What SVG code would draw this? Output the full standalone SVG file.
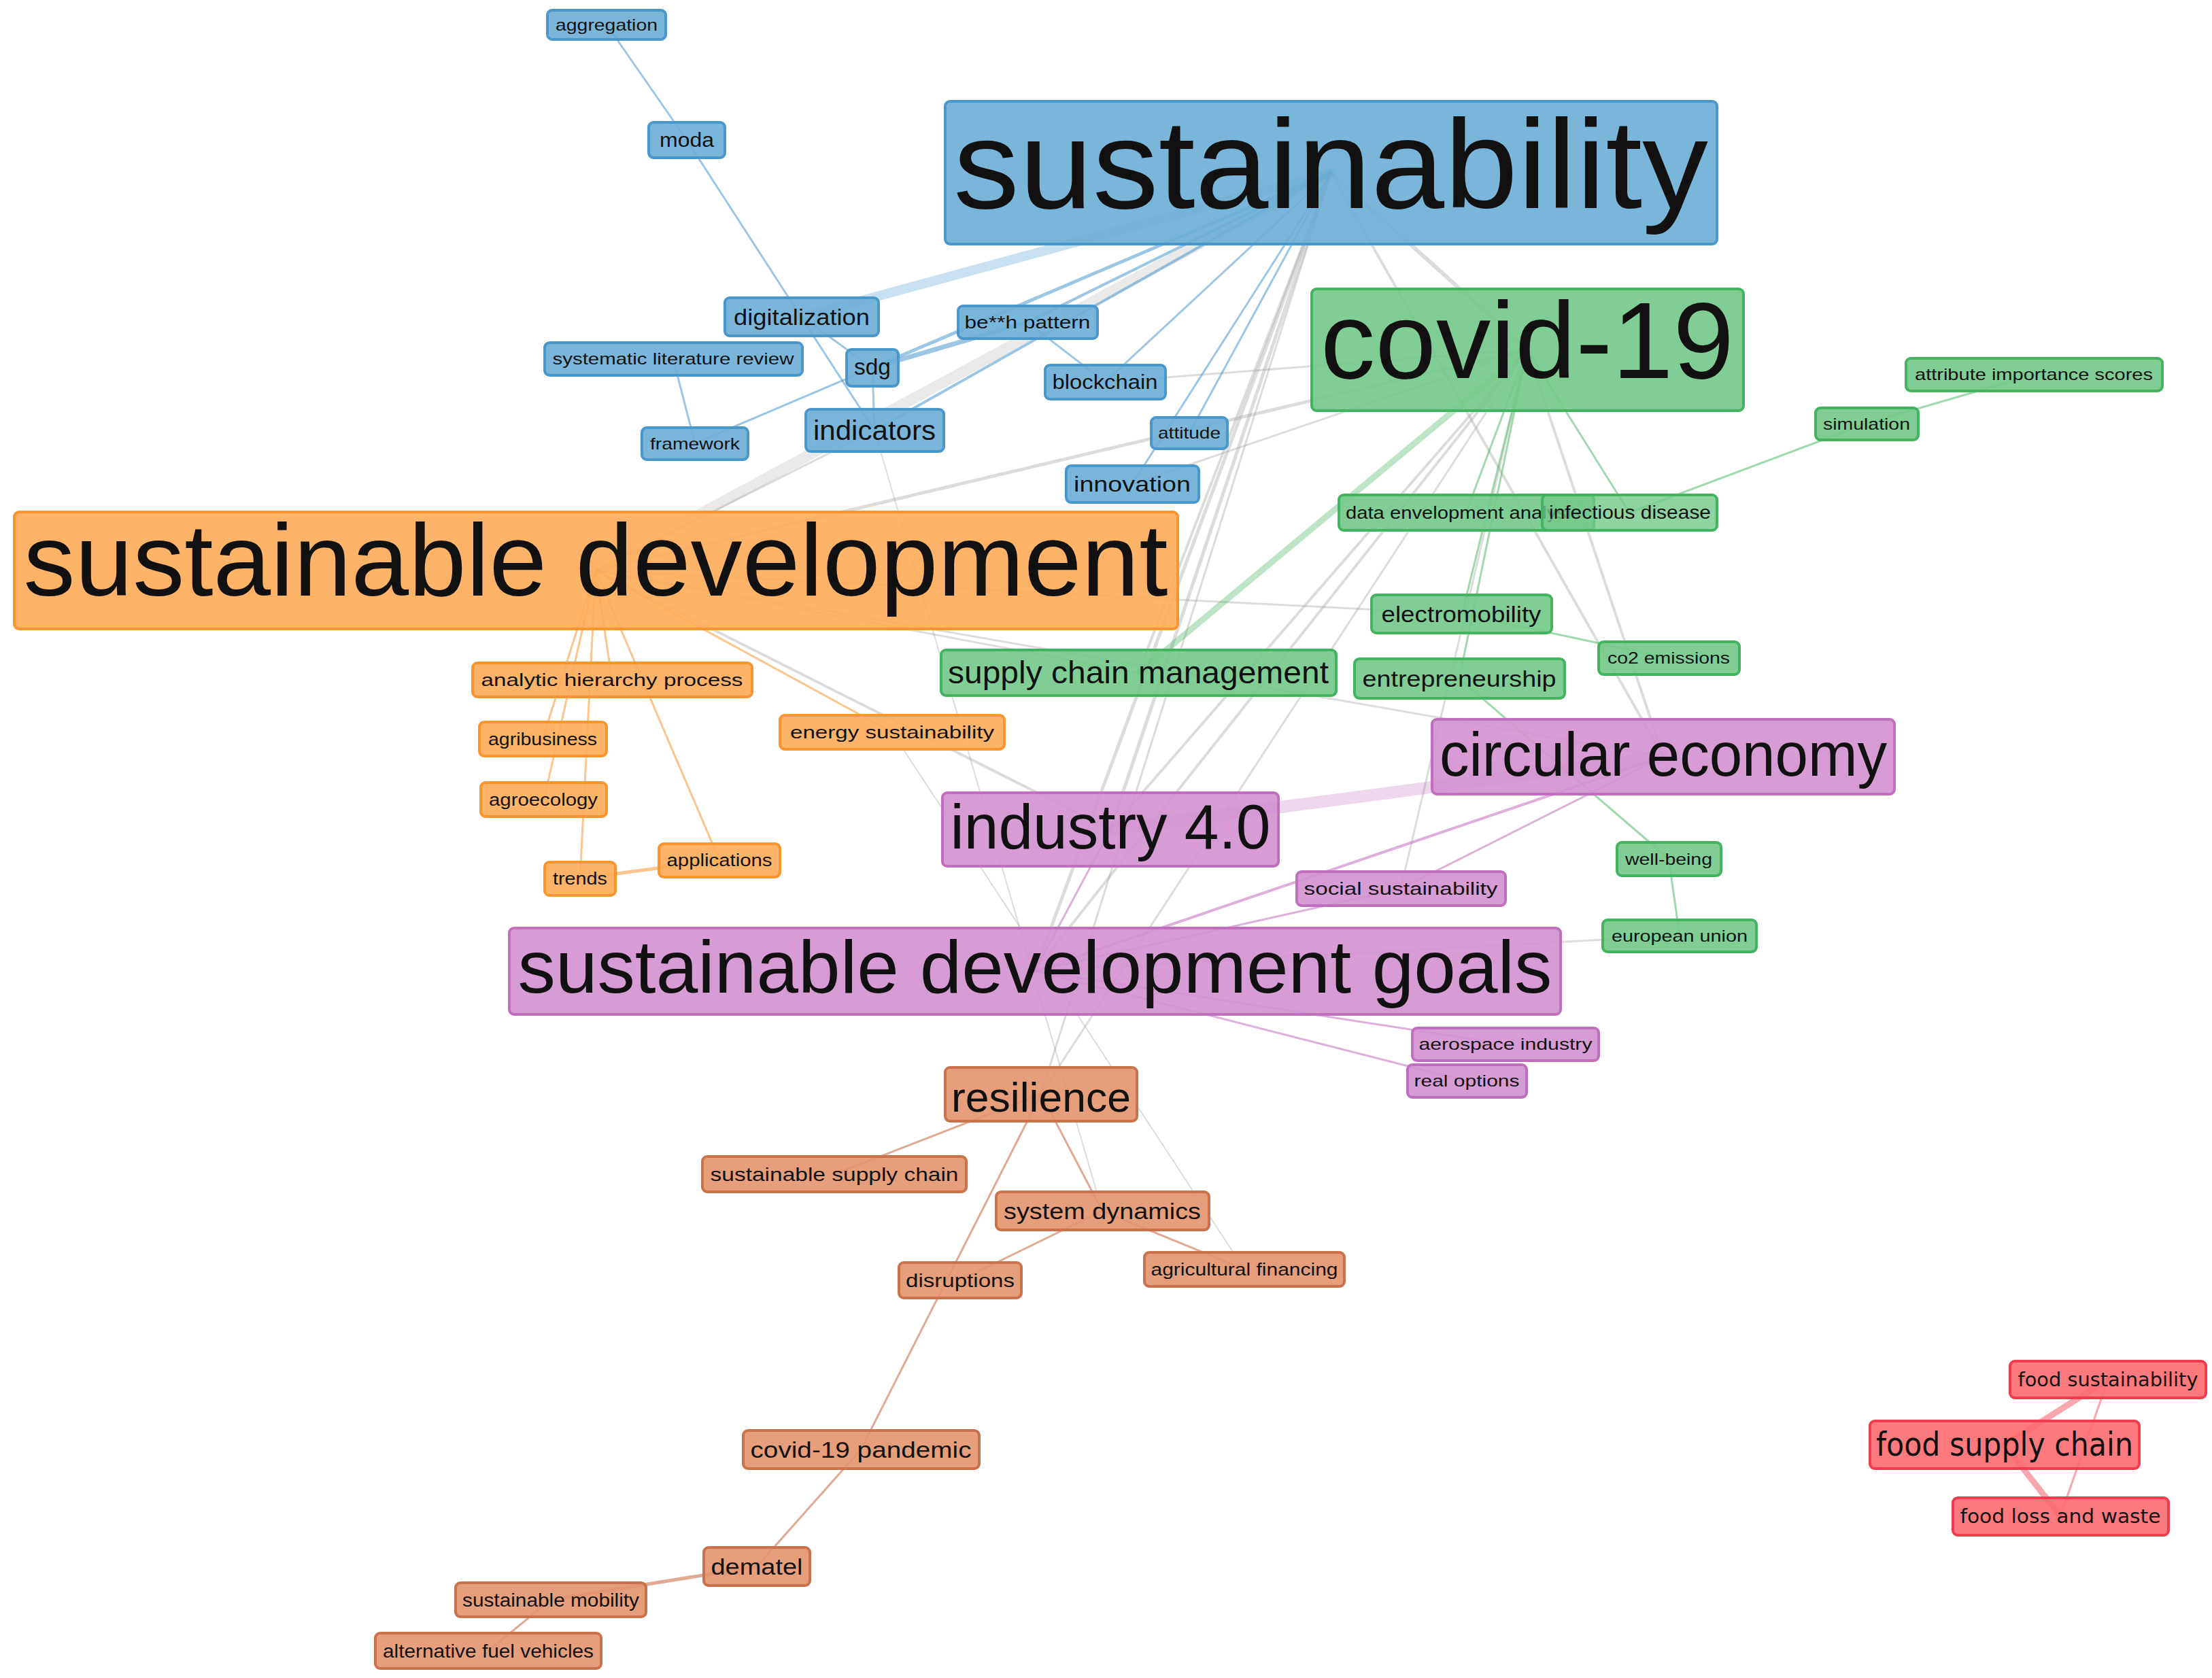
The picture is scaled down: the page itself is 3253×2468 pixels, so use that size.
<svg xmlns="http://www.w3.org/2000/svg" width="3253" height="2468" viewBox="0 0 3253 2468">
<style>
text{font-family:"Liberation Sans",Arial,sans-serif;fill:#111;text-anchor:middle}
rect{stroke-width:4;rx:7;ry:7;fill-opacity:0.9}
.b rect{fill:#6baed6;stroke:#4a97cc}
.g rect{fill:#72c98a;stroke:#42b35e}
.o rect{fill:#fdab58;stroke:#f8952f}
.p rect{fill:#d391cf;stroke:#c06fbe}
.r rect{fill:#e3946d;stroke:#c9724c}
.f rect{fill:#fc6a70;stroke:#f03c4c}
.f text{font-family:"DejaVu Sans",Verdana,sans-serif}
line{stroke-linecap:round;fill:none}
.eb{stroke:#4a97cc;stroke-opacity:.55;stroke-width:3}
.eg{stroke:#9a9a9a;stroke-opacity:.35;stroke-width:3}
.eG{stroke:#42b35e;stroke-opacity:.5;stroke-width:3}
.eo{stroke:#f8952f;stroke-opacity:.55;stroke-width:3}
.ep{stroke:#c06fbe;stroke-opacity:.55;stroke-width:3}
.er{stroke:#c9724c;stroke-opacity:.6;stroke-width:3}
.ef{stroke:#f03c4c;stroke-opacity:.45;stroke-width:3}
</style>
<rect x="0" y="0" width="3253" height="2468" style="fill:#fff;stroke:none;fill-opacity:1"/>
<g id="connectors">
<!-- gray inter-cluster -->
<line class="eg" x1="1957" y1="254" x2="876" y2="839" style="stroke-width:16;stroke-opacity:.22"/>
<line class="eg" x1="1957" y1="254" x2="2246" y2="514" style="stroke-width:6"/>
<line class="eg" x1="1957" y1="254" x2="1522" y2="1428" style="stroke-width:5"/>
<line class="eg" x1="1957" y1="254" x2="1633" y2="1220" style="stroke-width:5"/>
<line class="eg" x1="1957" y1="254" x2="1674" y2="990" style="stroke-width:4"/>
<line class="eg" x1="1957" y1="254" x2="2446" y2="1113" style="stroke-width:4"/>
<line class="eg" x1="1957" y1="254" x2="1531" y2="1609" style="stroke-width:3"/>
<line class="eg" x1="2246" y1="514" x2="876" y2="839" style="stroke-width:5"/>
<line class="eg" x1="2246" y1="514" x2="1522" y2="1428" style="stroke-width:4"/>
<line class="eg" x1="2246" y1="514" x2="1633" y2="1220" style="stroke-width:4"/>
<line class="eg" x1="2246" y1="514" x2="1531" y2="1609"/>
<line class="eg" x1="2246" y1="514" x2="2446" y2="1113" style="stroke-width:4"/>
<line class="eg" x1="2246" y1="514" x2="1625" y2="562"/>
<line class="eg" x1="2246" y1="514" x2="1665" y2="712"/>
<line class="eg" x1="2246" y1="514" x2="2060" y2="1307"/>
<line class="eg" x1="876" y1="839" x2="1633" y2="1220" style="stroke-width:4"/>
<line class="eg" x1="876" y1="839" x2="1674" y2="990"/>
<line class="eg" x1="876" y1="839" x2="2150" y2="903"/>
<line class="eg" x1="876" y1="839" x2="2446" y2="1113"/>
<line class="eg" x1="876" y1="839" x2="1286" y2="633"/>
<line class="eg" x1="1522" y1="1428" x2="2470" y2="1376"/>
<line class="eg" x1="1312" y1="1077" x2="1830" y2="1867" style="stroke-width:2"/>
<line class="eg" x1="1286" y1="633" x2="1621" y2="1781" style="stroke-width:2"/>
<!-- blue -->
<line class="eb" x1="1957" y1="254" x2="1179" y2="466" style="stroke-width:14;stroke-opacity:.3"/>
<line class="eb" x1="1957" y1="254" x2="1283" y2="541" style="stroke-width:5"/>
<line class="eb" x1="1957" y1="254" x2="1511" y2="474" style="stroke-width:4"/>
<line class="eb" x1="1957" y1="254" x2="1286" y2="633" style="stroke-width:4"/>
<line class="eb" x1="1957" y1="254" x2="1625" y2="562"/>
<line class="eb" x1="1957" y1="254" x2="1749" y2="637"/>
<line class="eb" x1="1957" y1="254" x2="1665" y2="712"/>
<line class="eb" x1="892" y1="36" x2="1010" y2="206"/>
<line class="eb" x1="1010" y1="206" x2="1286" y2="633"/>
<line class="eb" x1="1179" y1="466" x2="1283" y2="541"/>
<line class="eb" x1="990" y1="528" x2="1022" y2="652"/>
<line class="eb" x1="1022" y1="652" x2="1283" y2="541"/>
<line class="eb" x1="1283" y1="541" x2="1511" y2="474" style="stroke-width:7"/>
<line class="eb" x1="1283" y1="541" x2="1286" y2="633"/>
<line class="eb" x1="1511" y1="474" x2="1625" y2="562"/>
<!-- green -->
<line class="eG" x1="2246" y1="514" x2="1674" y2="990" style="stroke-width:9;stroke-opacity:.35"/>
<line class="eG" x1="2246" y1="514" x2="2156" y2="754"/>
<line class="eG" x1="2246" y1="514" x2="2396" y2="754"/>
<line class="eG" x1="2246" y1="514" x2="2150" y2="903"/>
<line class="eG" x1="2246" y1="514" x2="2146" y2="998"/>
<line class="eG" x1="2396" y1="754" x2="2745" y2="623"/>
<line class="eG" x1="2745" y1="623" x2="2991" y2="551"/>
<line class="eG" x1="2150" y1="903" x2="2454" y2="968"/>
<line class="eG" x1="2146" y1="998" x2="2454" y2="1263"/>
<line class="eG" x1="2454" y1="1263" x2="2470" y2="1376"/>
<!-- orange -->
<line class="eo" x1="876" y1="839" x2="900" y2="1000"/>
<line class="eo" x1="876" y1="839" x2="798" y2="1087"/>
<line class="eo" x1="876" y1="839" x2="800" y2="1176"/>
<line class="eo" x1="876" y1="839" x2="853" y2="1292"/>
<line class="eo" x1="876" y1="839" x2="1058" y2="1265"/>
<line class="eo" x1="876" y1="839" x2="1312" y2="1077"/>
<line class="eo" x1="853" y1="1292" x2="1058" y2="1265" style="stroke-width:5"/>
<!-- purple -->
<line class="ep" x1="1633" y1="1220" x2="2446" y2="1113" style="stroke-width:18;stroke-opacity:.28"/>
<line class="ep" x1="2446" y1="1113" x2="1522" y2="1428" style="stroke-width:4"/>
<line class="ep" x1="2446" y1="1113" x2="2060" y2="1307"/>
<line class="ep" x1="2060" y1="1307" x2="1522" y2="1428"/>
<line class="ep" x1="1522" y1="1428" x2="2214" y2="1536"/>
<line class="ep" x1="1522" y1="1428" x2="2157" y2="1590"/>
<line class="ep" x1="1633" y1="1220" x2="1522" y2="1428"/>
<!-- brown -->
<line class="er" x1="1531" y1="1609" x2="1227" y2="1727"/>
<line class="er" x1="1531" y1="1609" x2="1621" y2="1781"/>
<line class="er" x1="1531" y1="1609" x2="1266" y2="2132"/>
<line class="er" x1="1621" y1="1781" x2="1412" y2="1883"/>
<line class="er" x1="1621" y1="1781" x2="1830" y2="1867"/>
<line class="er" x1="1266" y1="2132" x2="1113" y2="2304"/>
<line class="er" x1="1113" y1="2304" x2="810" y2="2353" style="stroke-width:5"/>
<line class="er" x1="810" y1="2353" x2="718" y2="2428"/>
<!-- red -->
<line class="ef" x1="2948" y1="2125" x2="3100" y2="2029" style="stroke-width:9"/>
<line class="ef" x1="2948" y1="2125" x2="3030" y2="2230" style="stroke-width:9"/>
<line class="ef" x1="3100" y1="2029" x2="3030" y2="2230"/>
</g>
<!-- blue cluster -->
<g id="n-sustainability" class="b"><rect x="1390" y="149" width="1135" height="210"/><text x="1957" y="306" font-size="185" textLength="1110" lengthAdjust="spacingAndGlyphs">sustainability</text></g>
<g id="n-aggregation" class="b"><rect x="805" y="15" width="174" height="43"/><text x="892" y="45" font-size="24" textLength="150" lengthAdjust="spacingAndGlyphs">aggregation</text></g>
<g id="n-moda" class="b"><rect x="954" y="180" width="112" height="52"/><text x="1010" y="216" font-size="30" textLength="80" lengthAdjust="spacingAndGlyphs">moda</text></g>
<g id="n-digitalization" class="b"><rect x="1066" y="438" width="226" height="56"/><text x="1179" y="478" font-size="34" textLength="200" lengthAdjust="spacingAndGlyphs">digitalization</text></g>
<g id="n-slr" class="b"><rect x="801" y="504" width="379" height="48"/><text x="990" y="536" font-size="24" textLength="355" lengthAdjust="spacingAndGlyphs">systematic literature review</text></g>
<g id="n-sdg" class="b"><rect x="1245" y="514" width="76" height="54"/><text x="1283" y="551" font-size="34" textLength="54" lengthAdjust="spacingAndGlyphs">sdg</text></g>
<g id="n-pattern" class="b"><rect x="1409" y="450" width="205" height="48"/><text x="1511" y="483" font-size="26" textLength="185" lengthAdjust="spacingAndGlyphs">be**h pattern</text></g>
<g id="n-blockchain" class="b"><rect x="1537" y="537" width="177" height="50"/><text x="1625" y="572" font-size="30" textLength="155" lengthAdjust="spacingAndGlyphs">blockchain</text></g>
<g id="n-framework" class="b"><rect x="944" y="629" width="156" height="47"/><text x="1022" y="661" font-size="24" textLength="132" lengthAdjust="spacingAndGlyphs">framework</text></g>
<g id="n-indicators" class="b"><rect x="1185" y="602" width="203" height="62"/><text x="1286" y="647" font-size="40" textLength="180" lengthAdjust="spacingAndGlyphs">indicators</text></g>
<g id="n-attitude" class="b"><rect x="1693" y="614" width="112" height="46"/><text x="1749" y="645" font-size="24" textLength="92" lengthAdjust="spacingAndGlyphs">attitude</text></g>
<g id="n-innovation" class="b"><rect x="1568" y="685" width="195" height="54"/><text x="1665" y="723" font-size="32" textLength="172" lengthAdjust="spacingAndGlyphs">innovation</text></g>
<!-- green cluster -->
<g id="n-covid19" class="g"><rect x="1929" y="425" width="635" height="179"/><text x="2246" y="556" font-size="160" textLength="608" lengthAdjust="spacingAndGlyphs">covid-19</text></g>
<g id="n-attribute" class="g"><rect x="2803" y="527" width="377" height="48"/><text x="2991" y="559" font-size="24" textLength="350" lengthAdjust="spacingAndGlyphs">attribute importance scores</text></g>
<g id="n-simulation" class="g"><rect x="2670" y="600" width="151" height="47"/><text x="2745" y="632" font-size="24" textLength="128" lengthAdjust="spacingAndGlyphs">simulation</text></g>
<g id="n-dea" class="g"><rect x="1969" y="728" width="375" height="52"/><text x="1979" y="763" font-size="26" textLength="346" lengthAdjust="spacingAndGlyphs" style="text-anchor:start">data envelopment analysis</text></g>
<g id="n-infectious" class="g"><rect x="2268" y="728" width="257" height="52" style="fill-opacity:.8"/><text x="2397" y="763" font-size="28" textLength="238" lengthAdjust="spacingAndGlyphs">infectious disease</text></g>
<g id="n-electromobility" class="g"><rect x="2017" y="875" width="265" height="56"/><text x="2149" y="915" font-size="34" textLength="235" lengthAdjust="spacingAndGlyphs">electromobility</text></g>
<g id="n-co2" class="g"><rect x="2351" y="944" width="207" height="48"/><text x="2454" y="976" font-size="24" textLength="180" lengthAdjust="spacingAndGlyphs">co2 emissions</text></g>
<g id="n-scm" class="g"><rect x="1384" y="956" width="581" height="67"/><text x="1674" y="1005" font-size="46" textLength="560" lengthAdjust="spacingAndGlyphs">supply chain management</text></g>
<g id="n-entrepreneurship" class="g"><rect x="1992" y="969" width="309" height="58"/><text x="2146" y="1010" font-size="34" textLength="285" lengthAdjust="spacingAndGlyphs">entrepreneurship</text></g>
<g id="n-wellbeing" class="g"><rect x="2378" y="1239" width="153" height="49"/><text x="2454" y="1272" font-size="24" textLength="128" lengthAdjust="spacingAndGlyphs">well-being</text></g>
<g id="n-eu" class="g"><rect x="2357" y="1353" width="226" height="47"/><text x="2470" y="1385" font-size="24" textLength="200" lengthAdjust="spacingAndGlyphs">european union</text></g>
<!-- orange cluster -->
<g id="n-sd" class="o"><rect x="21" y="753" width="1711" height="172"/><text x="876" y="876" font-size="150" textLength="1683" lengthAdjust="spacingAndGlyphs">sustainable development</text></g>
<g id="n-ahp" class="o"><rect x="695" y="975" width="411" height="50"/><text x="900" y="1009" font-size="26" textLength="385" lengthAdjust="spacingAndGlyphs">analytic hierarchy process</text></g>
<g id="n-energy" class="o"><rect x="1147" y="1052" width="330" height="50"/><text x="1312" y="1086" font-size="26" textLength="300" lengthAdjust="spacingAndGlyphs">energy sustainability</text></g>
<g id="n-agribusiness" class="o"><rect x="705" y="1062" width="187" height="50"/><text x="798" y="1096" font-size="26" textLength="160" lengthAdjust="spacingAndGlyphs">agribusiness</text></g>
<g id="n-agroecology" class="o"><rect x="707" y="1151" width="185" height="50"/><text x="799" y="1185" font-size="26" textLength="160" lengthAdjust="spacingAndGlyphs">agroecology</text></g>
<g id="n-applications" class="o"><rect x="969" y="1241" width="178" height="49"/><text x="1058" y="1274" font-size="26" textLength="155" lengthAdjust="spacingAndGlyphs">applications</text></g>
<g id="n-trends" class="o"><rect x="801" y="1268" width="104" height="49"/><text x="853" y="1301" font-size="26" textLength="80" lengthAdjust="spacingAndGlyphs">trends</text></g>
<!-- purple cluster -->
<g id="n-ce" class="p"><rect x="2106" y="1058" width="680" height="110"/><text x="2446" y="1141" font-size="90" textLength="658" lengthAdjust="spacingAndGlyphs">circular economy</text></g>
<g id="n-i40" class="p"><rect x="1386" y="1166" width="494" height="108"/><text x="1633" y="1248" font-size="92" textLength="471" lengthAdjust="spacingAndGlyphs">industry 4.0</text></g>
<g id="n-social" class="p"><rect x="1907" y="1282" width="307" height="50"/><text x="2060" y="1316" font-size="26" textLength="285" lengthAdjust="spacingAndGlyphs">social sustainability</text></g>
<g id="n-sdgs" class="p"><rect x="749" y="1365" width="1546" height="127"/><text x="1522" y="1460" font-size="110" textLength="1521" lengthAdjust="spacingAndGlyphs">sustainable development goals</text></g>
<g id="n-aerospace" class="p"><rect x="2077" y="1512" width="274" height="48"/><text x="2214" y="1544" font-size="24" textLength="255" lengthAdjust="spacingAndGlyphs">aerospace industry</text></g>
<g id="n-realoptions" class="p"><rect x="2070" y="1566" width="175" height="48"/><text x="2157" y="1598" font-size="24" textLength="155" lengthAdjust="spacingAndGlyphs">real options</text></g>
<!-- brown cluster -->
<g id="n-resilience" class="r"><rect x="1390" y="1570" width="282" height="79"/><text x="1531" y="1635" font-size="62" textLength="264" lengthAdjust="spacingAndGlyphs">resilience</text></g>
<g id="n-ssc" class="r"><rect x="1033" y="1701" width="388" height="52"/><text x="1227" y="1737" font-size="28" textLength="365" lengthAdjust="spacingAndGlyphs">sustainable supply chain</text></g>
<g id="n-sysdyn" class="r"><rect x="1465" y="1753" width="313" height="56"/><text x="1621" y="1793" font-size="34" textLength="290" lengthAdjust="spacingAndGlyphs">system dynamics</text></g>
<g id="n-agrifin" class="r"><rect x="1683" y="1842" width="294" height="50"/><text x="1830" y="1876" font-size="26" textLength="275" lengthAdjust="spacingAndGlyphs">agricultural financing</text></g>
<g id="n-disruptions" class="r"><rect x="1322" y="1857" width="180" height="52"/><text x="1412" y="1893" font-size="28" textLength="160" lengthAdjust="spacingAndGlyphs">disruptions</text></g>
<g id="n-covidpandemic" class="r"><rect x="1093" y="2104" width="347" height="56"/><text x="1266" y="2144" font-size="34" textLength="325" lengthAdjust="spacingAndGlyphs">covid-19 pandemic</text></g>
<g id="n-dematel" class="r"><rect x="1035" y="2276" width="156" height="56"/><text x="1113" y="2316" font-size="34" textLength="135" lengthAdjust="spacingAndGlyphs">dematel</text></g>
<g id="n-sustmobility" class="r"><rect x="670" y="2328" width="280" height="50"/><text x="810" y="2363" font-size="28" textLength="260" lengthAdjust="spacingAndGlyphs">sustainable mobility</text></g>
<g id="n-afv" class="r"><rect x="552" y="2402" width="332" height="52"/><text x="718" y="2438" font-size="28" textLength="310" lengthAdjust="spacingAndGlyphs">alternative fuel vehicles</text></g>
<!-- red cluster -->
<g id="n-foodsust" class="f"><rect x="2956" y="2002" width="288" height="54"/><text x="3100" y="2039" font-size="28" textLength="265" lengthAdjust="spacingAndGlyphs">food sustainability</text></g>
<g id="n-fsc" class="f"><rect x="2750" y="2090" width="396" height="70"/><text x="2948" y="2141" font-size="48" textLength="378" lengthAdjust="spacingAndGlyphs">food supply chain</text></g>
<g id="n-flw" class="f"><rect x="2872" y="2203" width="317" height="55"/><text x="3030" y="2240" font-size="28" textLength="295" lengthAdjust="spacingAndGlyphs">food loss and waste</text></g>
</svg>
